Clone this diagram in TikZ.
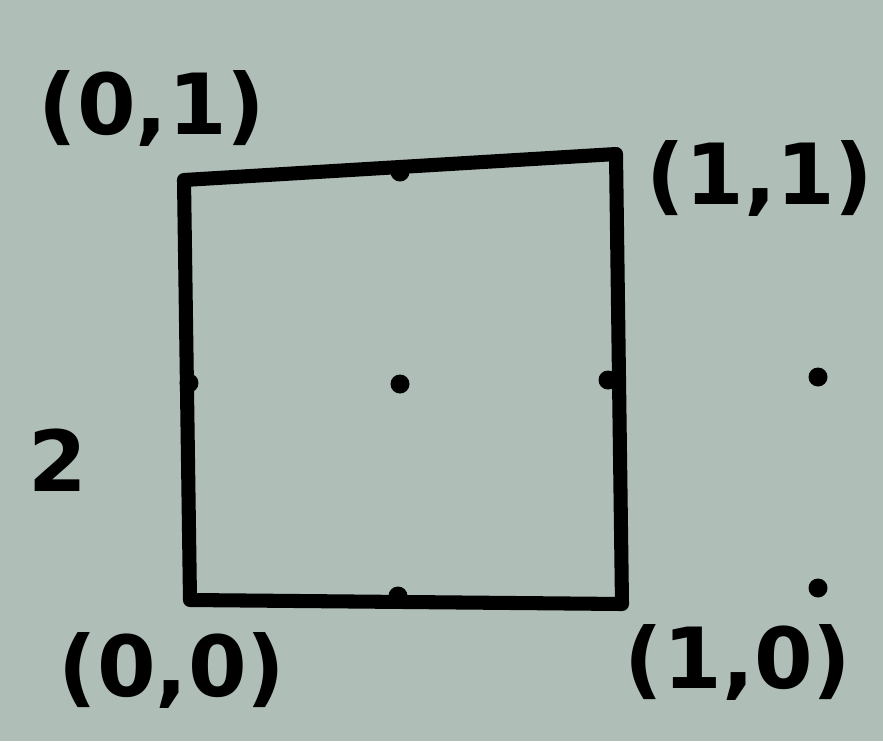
\documentclass[tikz,border=0pt]{standalone}
\usepackage{fontspec}
\setmainfont{DejaVu Sans}
\usetikzlibrary{calc}
\definecolor{paper}{RGB}{176,190,184}

\begin{document}
\begin{tikzpicture}[x=0.02cm, y=-0.02cm,
        dot/.style={circle, fill=black, inner sep=0pt, minimum size=0.38cm},
        lbl/.style={font=\fontsize{48}{56}\selectfont\bfseries}]
            \fill[paper] (0,0) rectangle (883,741);
            \useasboundingbox (0,0) rectangle (883,741);

            \coordinate (TL) at (184,180);
            \coordinate (TR) at (616,154);
            \coordinate (BR) at (622,604);
            \coordinate (BL) at (190,600);
            \draw[line width=8pt, line join=round] (TL) -- (TR) -- (BR) -- (BL) -- cycle;

            \node[dot] (T) at (400,172) {};
            \node[dot] (L) at (189,383) {};
            \node[dot] (C) at (400,384) {};
            \node[dot] (R) at (608,380) {};
            \node[dot] (B) at (398,596) {};
            \node[dot] (E1) at (818,377) {};
            \node[dot] (E2) at (818,588) {};

            \node[lbl] (L01) at (152,108) {(0,1)};
            \node[lbl] (L11) at (760,178) {(1,1)};
            \node[lbl] (L00) at (172,670) {(0,0)};
            \node[lbl] (L10) at (738,662) {(1,0)};
            \node[lbl] (Two) at (58,460) {2};
        \end{tikzpicture}
\end{document}
